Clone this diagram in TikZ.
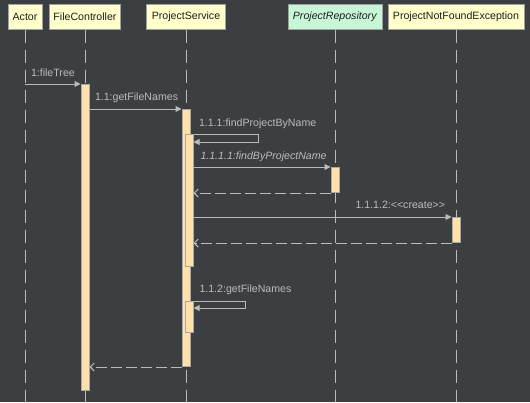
\documentclass[tikz,border=0pt]{standalone}
\usepackage{fontspec}
\setmainfont{Liberation Sans}
\usetikzlibrary{arrows.meta}

\definecolor{bgdark}{HTML}{3C3F41}
\definecolor{lineGrey}{HTML}{BBBBBB}
\definecolor{headborder}{HTML}{A0A0A0}
\definecolor{headyellow}{HTML}{FFFFCC}
\definecolor{headgreen}{HTML}{C8F7D8}
\definecolor{headtext}{HTML}{1E1E1E}
\definecolor{actfill}{HTML}{FFE0A8}
\definecolor{actborder}{HTML}{A8A8A8}

\begin{document}
\begin{tikzpicture}[x=1pt, y=-1pt, line width=1pt,
  font=\fontsize{10.6}{12}\selectfont,
  head/.style={draw=headborder, fill=headyellow, text=headtext, minimum height=25pt, inner sep=0pt},
  life/.style={draw=lineGrey, dash pattern=on 13pt off 7pt},
  act/.style={draw=actborder, fill=actfill, minimum width=8pt, inner sep=0pt, anchor=north},
  call/.style={draw=lineGrey, -{Triangle[length=6pt,width=6pt]}},
  reply/.style={draw=lineGrey, dash pattern=on 11pt off 4pt, -{Straight Barb[length=4pt,width=8pt]}},
  lbl/.style={text=lineGrey, anchor=base west, inner sep=0pt}]

% background and page size
\fill[bgdark] (0,0) rectangle (530,402);
\useasboundingbox (0,0) rectangle (530,402);
\coordinate (bottom) at (0,402);

% draw object heads
\node[head, minimum width=34pt] (actor) at (25,16.5) {Actor};
\node[head, minimum width=71pt] (fc) at (85,16.5) {FileController};
\node[head, minimum width=79pt] (ps) at (186,16.5) {ProjectService};
\node[head, minimum width=94pt, fill=headgreen] (pr) at (335,16.5) {\textit{ProjectRepository}};
\node[head, minimum width=136pt] (pnfe) at (456,16.5) {ProjectNotFoundException};

% draw lifelines
\draw[life] (actor.south) -- (actor.south |- bottom);
\draw[life] (fc.south) -- (fc.south |- bottom);
\draw[life] (ps.south) -- (ps.south |- bottom);
\draw[life] (pr.south) -- (pr.south |- bottom);
\draw[life] (pnfe.south) -- (pnfe.south |- bottom);

% draw activations
\node[act, minimum height=306pt] (fcact) at (85,84) {};
\node[act, minimum height=257pt] (psact) at (186,109) {};
\node[act, minimum height=132pt] (psact2) at (189,134) {};
\node[act, minimum height=25pt] (pract) at (335,167) {};
\node[act, minimum height=25pt] (pnact) at (456,217) {};
\node[act, minimum height=31pt] (psact3) at (189,301) {};

% draw messages
\draw[call] (actor.south |- fcact.north) -- (fcact.north west);
\draw[call] (fcact.east |- psact.north) -- (psact.north west);
\coordinate (loop1) at (258,134);
\draw[call] (psact2.north east) -- (loop1) |- ([yshift=-8pt]psact2.north east);
\draw[call] (psact2.east |- pract.north) -- (pract.north west);
\draw[reply] (pract.south west) -- (psact2.east |- pract.south);
\draw[call] (psact2.east |- pnact.north) -- (pnact.north west);
\draw[reply] (pnact.south west) -- (psact2.east |- pnact.south);
\coordinate (loop2) at (245,301);
\draw[call] (psact3.north east) -- (loop2) |- ([yshift=-7pt]psact3.north east);
\draw[reply] (psact.south west) -- (fcact.east |- psact.south);

% draw labels
\node[lbl] (l1) at (30.5,76) {1:fileTree};
\node[lbl] (l11) at (94.5,100.5) {1.1:getFileNames};
\node[lbl] (l111) at (198.5,126) {1.1.1:findProjectByName};
\node[lbl] (l1111) at (200,159) {\textit{1.1.1.1:findByProjectName}};
\node[lbl] (l1112) at (355,208.5) {1.1.1.2:<{}<create>{}>};
\node[lbl] (l112) at (199,292) {1.1.2:getFileNames};

\end{tikzpicture}
\end{document}
